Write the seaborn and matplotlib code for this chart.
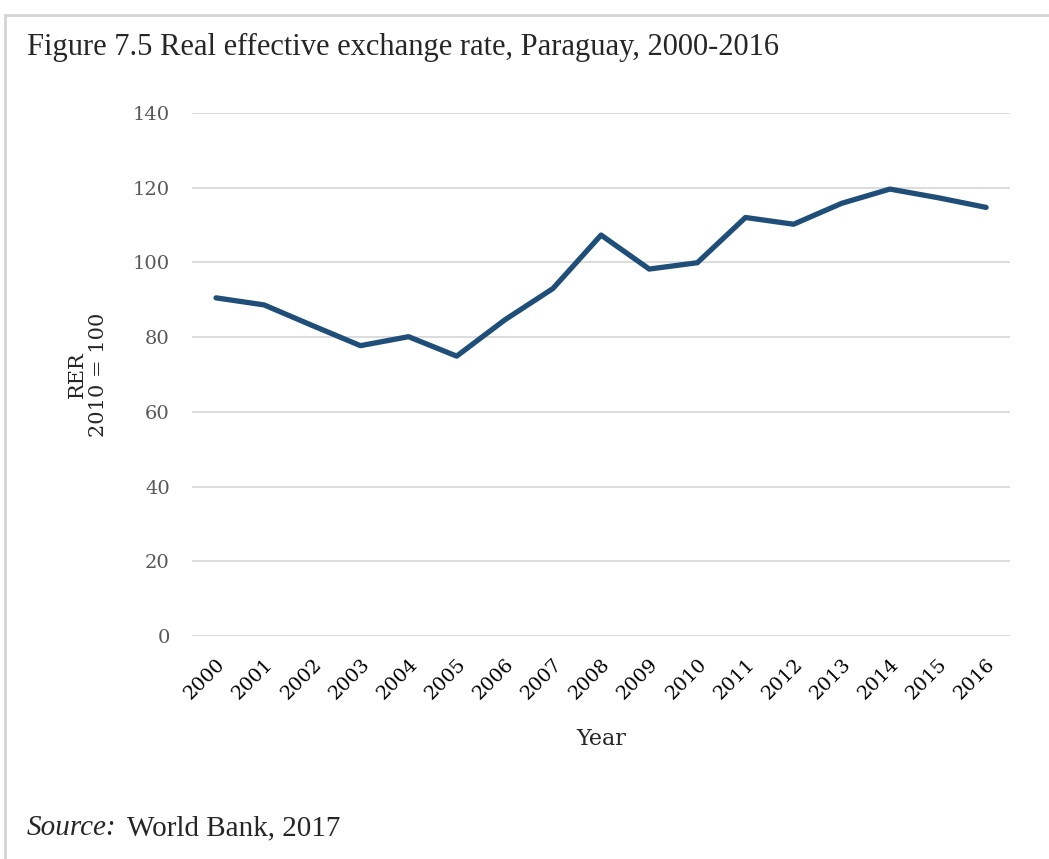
import matplotlib
matplotlib.use("Agg")
import matplotlib.pyplot as plt
import seaborn as sns
import pandas as pd
from matplotlib.patches import Rectangle

years = [str(y) for y in range(2000, 2017)]
rer = [90.5, 88.6, 83.1, 77.7, 80.1, 74.9, 84.6, 93.0, 107.3,
       98.2, 99.9, 112.0, 110.2, 115.8, 119.6, 117.3, 114.7]
y_ticks = [0, 20, 40, 60, 80, 100, 120, 140]

df = pd.DataFrame({"Year": years, "RER": rer})

sns.set_style("white")
plt.rcParams["font.family"] = ["DejaVu Serif"]

fig = plt.figure(figsize=(10.49, 8.59), dpi=100)
ax = fig.add_axes([0.183, 0.2596, 0.780, 0.609])

sns.lineplot(data=df, x="Year", y="RER", ax=ax, color="#1f4e79",
             linewidth=3.8, sort=False)

ax.set_xlim(-0.5, len(years) - 0.5)
ax.set_ylim(0, 140)
ax.set_yticks(y_ticks)
ax.yaxis.grid(True, color="#d9d9d9", linewidth=1.3)
ax.xaxis.grid(False)
for s in ax.spines.values():
    s.set_visible(False)
ax.tick_params(axis="y", length=0, pad=16, labelsize=14, labelcolor="#595959")
ax.tick_params(axis="x", length=0, pad=14, labelsize=14, labelcolor="black")
plt.setp(ax.get_xticklabels(), rotation=45, ha="right", rotation_mode="anchor")

ax.set_xlabel("Year", fontsize=16)
ax.xaxis.set_label_coords(0.5, -0.175)
ax.set_ylabel("RER\n2010 = 100", fontsize=15, linespacing=1.15)
ax.yaxis.set_label_coords(-0.103, 0.5)

# outer frame
fig.patches.append(Rectangle((5 / 1049, -0.05), 1.1, 1 - 15 / 859 + 0.05,
                             transform=fig.transFigure, fill=False,
                             edgecolor="#d4d4d4", linewidth=2))

serif = ["Liberation Serif", "DejaVu Serif"]
fig.text(27 / 1049, 1 - 55 / 859, "Figure 7.5 Real effective exchange rate, Paraguay, 2000-2016",
         fontsize=22, family=serif, ha="left", va="baseline")
fig.text(27 / 1049, 1 - 835 / 859, "Source:", fontsize=21, style="italic",
         family=serif, ha="left", va="baseline")
fig.text(127 / 1049, 1 - 835 / 859, "World Bank, 2017", fontsize=21,
         family=serif, ha="left", va="baseline")

fig.savefig("out.png", dpi=100)
